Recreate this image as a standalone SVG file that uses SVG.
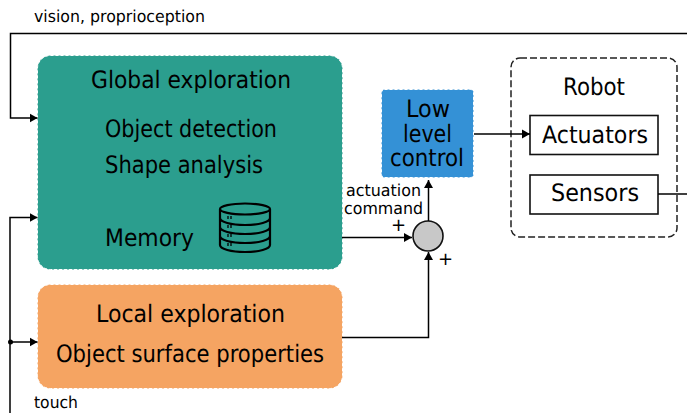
<svg xmlns="http://www.w3.org/2000/svg" width="687" height="413" viewBox="0 0 687 413">
<style>
text{font-family:"DejaVu Sans",sans-serif;fill:#000;text-rendering:geometricPrecision}
.l{font-size:24px}
.s{font-size:16.500px}
.c{fill:none;stroke:#000;stroke-width:1.500}
.b{stroke:#fff;stroke-width:1;stroke-dasharray:3 2}
</style>
<defs>
<marker id="a" markerUnits="userSpaceOnUse" markerWidth="9" markerHeight="10" refX="8" refY="5" orient="auto"><path d="M0 0.5L8 5L0 9.5Z" fill="#000"/></marker>
</defs>
<g id="global"><rect class="b" x="37.500" y="55.500" width="305" height="214" rx="13" fill="#2b9e8e"/>
<text class="l" x="91" y="88" textLength="200" lengthAdjust="spacingAndGlyphs">Global exploration</text>
<text class="l" x="105" y="137" textLength="172" lengthAdjust="spacingAndGlyphs">Object detection</text>
<text class="l" x="105" y="173" textLength="158" lengthAdjust="spacingAndGlyphs">Shape analysis</text>
<text class="l" x="105" y="246" textLength="89" lengthAdjust="spacingAndGlyphs">Memory</text>
<g fill="none" stroke="#000" stroke-width="2.200">
<ellipse cx="245" cy="209" rx="25" ry="5.500"/>
<path d="M220 209V245C220 249 231 252 245 252S270 249 270 245V209M220 218C220 222 231 225 245 225S270 222 270 218M220 227C220 231 231 234 245 234S270 231 270 227M220 236C220 240 231 243 245 243S270 240 270 236"/>
<path d="M228 216v3M231 216v3M228 225v3M231 225v3M228 234v3M231 234v3M228 243v3M231 243v3" stroke-width="1.300"/>
</g></g>
<g id="local"><rect class="b" x="37.500" y="284.500" width="305" height="104" rx="13" fill="#f5a462"/>
<text class="l" x="96" y="322" textLength="189" lengthAdjust="spacingAndGlyphs">Local exploration</text>
<text class="l" x="56" y="362" textLength="268" lengthAdjust="spacingAndGlyphs">Object surface properties</text></g>
<g id="low"><rect class="b" x="381.500" y="89.500" width="92" height="88" rx="3" fill="#3491d6"/>
<text class="l" x="406" y="117" textLength="44" lengthAdjust="spacingAndGlyphs">Low</text>
<text class="l" x="403" y="142" textLength="49" lengthAdjust="spacingAndGlyphs">level</text>
<text class="l" x="390" y="166" textLength="74" lengthAdjust="spacingAndGlyphs">control</text></g>
<g id="robot"><rect x="511" y="58" width="166" height="179" rx="9" fill="none" stroke="#222" stroke-width="1.500" stroke-dasharray="7 3"/>
<text class="l" x="563" y="95" textLength="62" lengthAdjust="spacingAndGlyphs">Robot</text></g>
<g id="actuators"><rect x="530" y="115.500" width="128" height="39" fill="#fff" stroke="#111" stroke-width="1.600"/>
<text class="l" x="542" y="143" textLength="106" lengthAdjust="spacingAndGlyphs">Actuators</text></g>
<g id="sensors"><rect x="530" y="175" width="128" height="39" fill="#fff" stroke="#111" stroke-width="1.600"/>
<text class="l" x="551" y="201" textLength="88" lengthAdjust="spacingAndGlyphs">Sensors</text></g>
<g id="sum"><circle cx="428" cy="236" r="15" fill="#c8c8c8" stroke="#111" stroke-width="1.600"/></g>
<g id="connectors">
<path class="c" d="M687 33.500H10.500V118H37.500" marker-end="url(#a)"/>
<path class="c" d="M658 194H687"/>
<path class="c" d="M10 413V217.500H37.500" marker-end="url(#a)"/>
<path class="c" d="M10 342H37.500" marker-end="url(#a)"/>
<circle cx="10.500" cy="342" r="2.500" fill="#000"/>
<path class="c" d="M342 237.500H412" marker-end="url(#a)"/>
<path class="c" d="M342 337.500H428.500V252" marker-end="url(#a)"/>
<path class="c" d="M428.500 221V180" marker-end="url(#a)"/>
<path class="c" d="M474 134H530" marker-end="url(#a)"/>
</g>
<text class="s" x="34" y="22" textLength="171" lengthAdjust="spacingAndGlyphs">vision, proprioception</text>
<text class="s" x="34" y="408" textLength="44" lengthAdjust="spacingAndGlyphs">touch</text>
<text class="s" x="346" y="196" textLength="75" lengthAdjust="spacingAndGlyphs">actuation</text>
<text class="s" x="344" y="213.500" textLength="79" lengthAdjust="spacingAndGlyphs">command</text>
<text x="391" y="231" font-size="18px">+</text>
<text x="438" y="265" font-size="18px">+</text>
</svg>
